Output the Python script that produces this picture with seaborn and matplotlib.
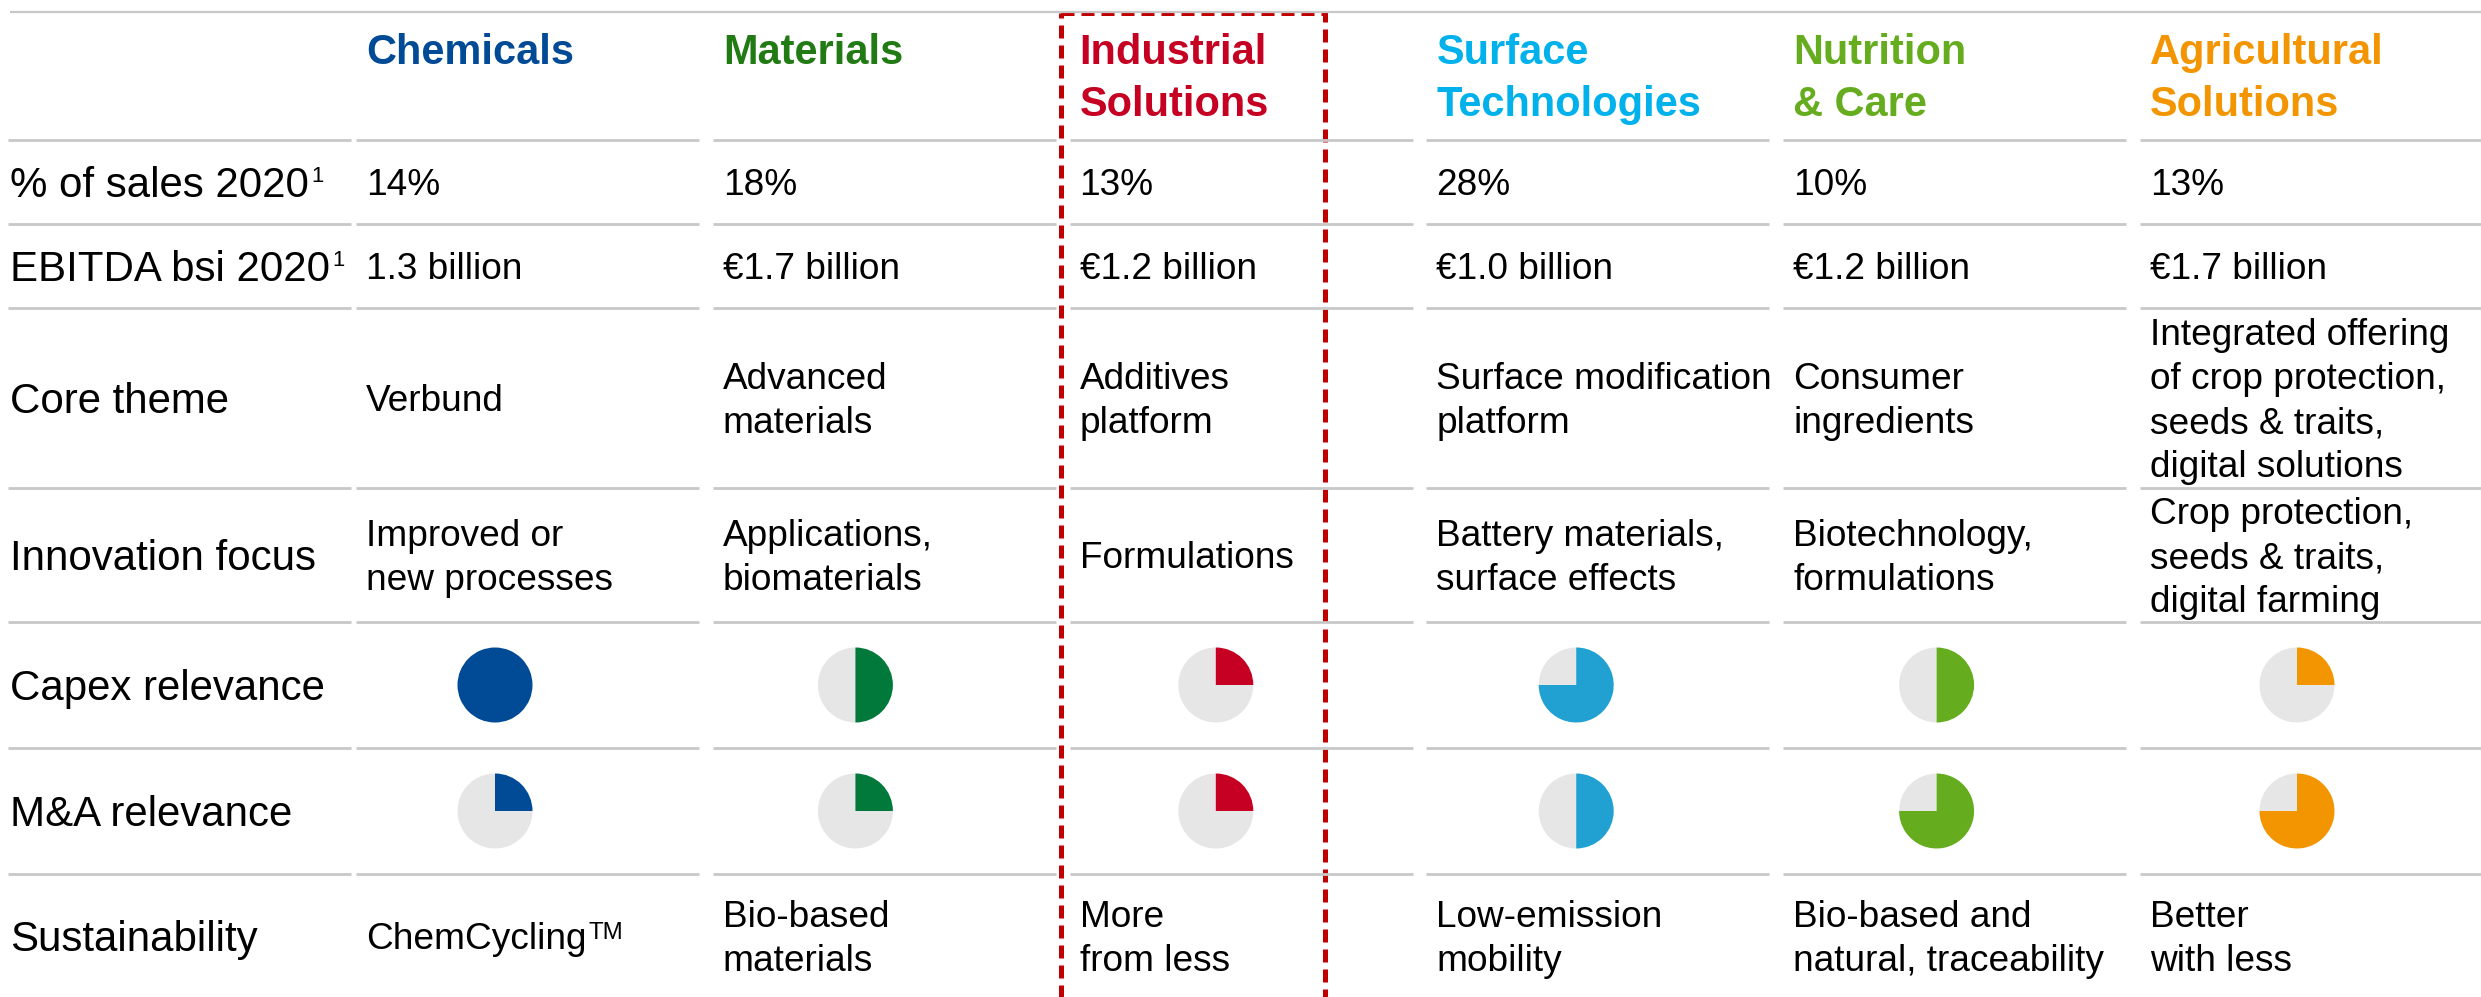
import seaborn as sns
import matplotlib.pyplot as plt
from matplotlib.patches import Wedge, Rectangle

# ---- data ----
segments = ["Chemicals", "Materials", "Industrial\nSolutions", "Surface\nTechnologies",
            "Nutrition\n& Care", "Agricultural\nSolutions"]
header_colors = ["#004A96", "#217A14", "#C50022", "#00B1EB", "#65AC1E", "#F39500"]
pie_colors = ["#004A96", "#00793A", "#C50022", "#21A0D2", "#65AC1E", "#F39500"]

row_labels = ["% of sales 2020", "EBITDA bsi 2020", "Core theme", "Innovation focus",
              "Capex relevance", "M&A relevance", "Sustainability"]
row_label_sup = ["1", "1", "", "", "", "", ""]

sales_share = ["14%", "18%", "13%", "28%", "10%", "13%"]
ebitda = ["1.3 billion", "€1.7 billion", "€1.2 billion", "€1.0 billion", "€1.2 billion", "€1.7 billion"]
core_theme = ["Verbund", "Advanced\nmaterials", "Additives\nplatform", "Surface modification\nplatform",
              "Consumer\ningredients",
              "Integrated offering\nof crop protection,\nseeds & traits,\ndigital solutions"]
innovation = ["Improved or\nnew processes", "Applications,\nbiomaterials", "Formulations",
              "Battery materials,\nsurface effects", "Biotechnology,\nformulations",
              "Crop protection,\nseeds & traits,\ndigital farming"]
capex = [1.0, 0.5, 0.25, 0.75, 0.5, 0.25]
m_and_a = [0.25, 0.25, 0.25, 0.5, 0.75, 0.75]
sustainability = ["ChemCycling", "Bio-based\nmaterials", "More\nfrom less", "Low-emission\nmobility",
                  "Bio-based and\nnatural, traceability", "Better\nwith less"]
sustainability_sup = ["TM", "", "", "", "", ""]

# ---- layout (pixels) ----
W, H = 2481, 997
row_edges = [12.5, 140, 224, 308, 488, 622, 748, 874, 997]
col_start0, col_step, col_w = 356, 356.8, 343
pie_x0, pie_step, pie_r = 495, 360.4, 37.5
grid_color = "#C8C8C8"
gray = "#E6E6E6"

sns.set_theme(style="white")
plt.rcParams["font.family"] = ["Liberation Sans", "DejaVu Sans"]

fig = plt.figure(figsize=(W / 100, H / 100), dpi=100)
ax = fig.add_axes([0, 0, 1, 1])
ax.set_xlim(0, W)
ax.set_ylim(H, 0)
ax.set_aspect("auto")
ax.axis("off")

px = 72 / 100  # pixels -> points
fs_label, fs_head, fs_cell = 42 * px, 41.5 * px, 37 * px
col_starts = [col_start0 + i * col_step for i in range(len(segments))]


def add_sup(txt, s, size):
    ax.annotate(s, xy=(1, 1), xycoords=txt, xytext=(1.5, 0), textcoords="offset points",
                ha="left", va="top", fontsize=size, color="black")


def cell_text(x, yc, s, size, spacing, cap, **kw):
    lines = s.split("\n")
    n = len(lines)
    out = []
    for k, line in enumerate(lines):
        yb = yc + (k - (n - 1) / 2) * spacing + cap / 2
        out.append(ax.text(x, yb, line, ha="left", va="baseline", fontsize=size, **kw))
    return out


# grid lines
ax.plot([10, W], [row_edges[0]] * 2, color=grid_color, lw=1.6, solid_capstyle="butt")
for y in row_edges[1:-1]:
    ax.plot([8, 351], [y, y], color=grid_color, lw=2.0, solid_capstyle="butt")
    for cs in col_starts:
        ax.plot([cs, min(cs + col_w, W)], [y, y], color=grid_color, lw=2.0, solid_capstyle="butt")

# headers
for i, name in enumerate(segments):
    for k, line in enumerate(name.split("\n")):
        ax.text(col_starts[i] + 10, 64 + k * 52, line, ha="left", va="baseline",
                fontsize=fs_head, fontweight="bold", color=header_colors[i])

# row labels
centers = [(row_edges[r + 1] + row_edges[r + 2]) / 2 for r in range(len(row_labels))]
for r, lab in enumerate(row_labels):
    t = ax.text(10, centers[r] + 15, lab, ha="left", va="baseline", fontsize=fs_label, color="black")
    if row_label_sup[r]:
        add_sup(t, row_label_sup[r], 22 * px)

# text rows
text_rows = {0: sales_share, 1: ebitda, 2: core_theme, 3: innovation, 6: sustainability}
for r, vals in text_rows.items():
    for i, v in enumerate(vals):
        ts = cell_text(col_starts[i] + 10, centers[r], v, fs_cell, 44, 26.5, color="black")
        if r == 6 and sustainability_sup[i]:
            add_sup(ts[-1], sustainability_sup[i], 24 * px)

# harvey balls (clockwise from 12 o'clock; y axis is inverted)
for r, vals in ((4, capex), (5, m_and_a)):
    for i, frac in enumerate(vals):
        cx, cy = pie_x0 + i * pie_step, centers[r]
        if frac < 1:
            ax.add_patch(Wedge((cx, cy), pie_r, 270 + frac * 360, 630, color=gray, lw=0))
        if frac > 0:
            ax.add_patch(Wedge((cx, cy), pie_r, 270, 270 + frac * 360, color=pie_colors[i], lw=0))

# highlight box around Industrial Solutions
ax.add_patch(Rectangle((1061, 13.5), 264, 1000, fill=False, edgecolor="#C00000",
                       lw=5 * px, linestyle=(0, (2.6, 1.4)), clip_on=True))

fig.savefig("out.png", dpi=100)
